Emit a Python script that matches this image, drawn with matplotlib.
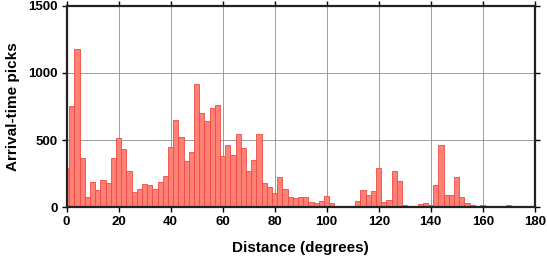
import numpy as np
import matplotlib
matplotlib.use("Agg")
import matplotlib.pyplot as plt

plt.rcParams['font.family'] = ['Liberation Sans', 'DejaVu Sans']
plt.rcParams['font.weight'] = 'bold'

# bin centres (degrees), 2-degree bins
distance = np.arange(0, 182, 2)
# arrival-time picks per bin
picks = [293, 751, 1175, 365, 77, 186, 126, 203, 181, 367,
         516, 434, 270, 114, 136, 174, 166, 136, 186, 233,
         449, 650, 523, 345, 410, 918, 700, 642, 737, 762,
         382, 463, 388, 543, 439, 268, 351, 543, 184, 148,
         104, 229, 135, 77, 69, 77, 77, 41, 33, 46,
         83, 32, 2, 10, 3, 8, 46, 129, 90, 121,
         292, 42, 54, 267, 193, 15, 2, 12, 25, 32,
         17, 166, 462, 89, 89, 223, 77, 32, 15, 7,
         15, 10, 3, 3, 3, 17, 7, 3, 3, 2, 1]

fig = plt.figure(figsize=(5.47, 2.58), dpi=100)
ax = fig.add_axes([0.1219, 0.1965, 0.8556, 0.7815])

ax.bar(distance, picks, width=2, align='center', color='#ff8074',
       edgecolor='#f04a42', linewidth=0.6, zorder=2)

ax.set_xlim(0, 180)
ax.set_ylim(0, 1500)
ax.set_xticks(np.arange(0, 181, 20))
ax.set_yticks([0, 500, 1000, 1500])
ax.grid(True, color='#8c8c8c', linewidth=0.6, zorder=0)
ax.set_axisbelow(True)

for s in ax.spines.values():
    s.set_linewidth(1.6)
    s.set_color('#222222')
    s.set_zorder(5)

ax.tick_params(direction='out', length=3.5, width=1.0, labelsize=9.5,
               top=True, right=True, pad=3)
for lab in ax.get_xticklabels() + ax.get_yticklabels():
    lab.set_fontweight('bold')

ax.set_xlabel('Distance (degrees)', fontsize=11, fontweight='bold', labelpad=9)
ax.set_ylabel('Arrival-time picks', fontsize=11, fontweight='bold', labelpad=6)

fig.savefig('out.png', dpi=100)
